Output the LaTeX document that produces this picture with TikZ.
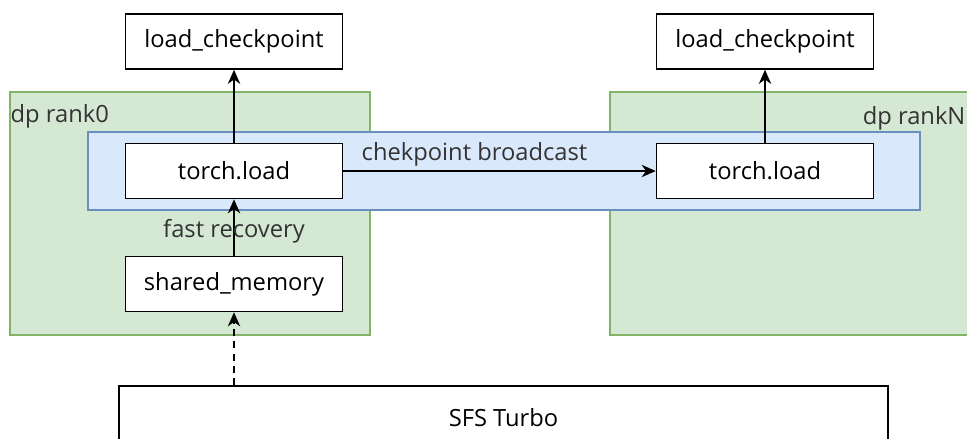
\documentclass[tikz,border=0pt]{standalone}
\usepackage{fontspec}
\setmainfont{Open Sans}
\usetikzlibrary{positioning, arrows.meta}
\definecolor{rankfill}{HTML}{D5E8D4}
\definecolor{rankdraw}{HTML}{82B366}
\definecolor{bcastfill}{HTML}{DAE8FC}
\definecolor{bcastdraw}{HTML}{6C8EBF}
\definecolor{labelgray}{HTML}{333333}
\tikzset{every picture/.style={line width=0.75pt}}
\tikzset{
  procbox/.style={draw, fill=white, line width=0.9pt, inner sep=0pt, minimum width=4.34cm, minimum height=1.1cm},
  groupbox/.style={draw=rankdraw, fill=rankfill, inner sep=0pt, minimum height=4.86cm},
  grouplabel/.style={text=labelgray, inner sep=0pt},
  flow/.style={->, line width=1.1pt}
}

\begin{document}
\begin{tikzpicture}[x=0.02cm, y=-0.02cm, >={Stealth[length=8pt, width=7pt, inset=2.5pt]}, every node/.style={font=\fontsize{13.5}{15}\selectfont}]
        \clip (0,0) rectangle (967,439);
        % data parallel ranks
        \node[groupbox, minimum width=7.2cm] (rank0) at (190, 213.5) {};
        \node[groupbox, minimum width=8cm]   (rankN) at (810, 213.5) {};
        \node[grouplabel, anchor=west] (rank0lbl) at (10, 116) {dp rank0};
        \node[grouplabel, anchor=east] (rankNlbl) at (966, 118) {dp rankN};
        % broadcast band
        \node[draw=bcastdraw, fill=bcastfill, inner sep=0pt, minimum width=16.64cm, minimum height=1.56cm] (bcast) at (504, 171) {};
        \node[procbox] (load0) at (234, 171)  {torch.load};
        \node[procbox] (loadN) at (765, 171)  {torch.load};
        \node[procbox] (ckpt0) at (234, 41.5) {load\_checkpoint};
        \node[procbox] (ckptN) at (765, 41.5) {load\_checkpoint};
        \node[procbox] (shm)   at (234, 284)  {shared\_memory};
        \node[procbox, minimum width=15.38cm, minimum height=1.28cm] (sfs) at (503.5, 418) {SFS Turbo};
        \draw[flow] (load0) -- (ckpt0);
        \draw[flow] (loadN) -- (ckptN);
        \draw[flow] (load0) -- node[above, grouplabel, pos=0.42, yshift=2pt]{chekpoint broadcast} (loadN);
        \draw[flow] (shm) -- (load0);
        \node[grouplabel] (fastlbl) at (234, 231) {fast recovery};
        \draw[flow, dash pattern=on 4pt off 3pt] (shm.south |- sfs.north) -- (shm.south);
    \end{tikzpicture}
\end{document}
